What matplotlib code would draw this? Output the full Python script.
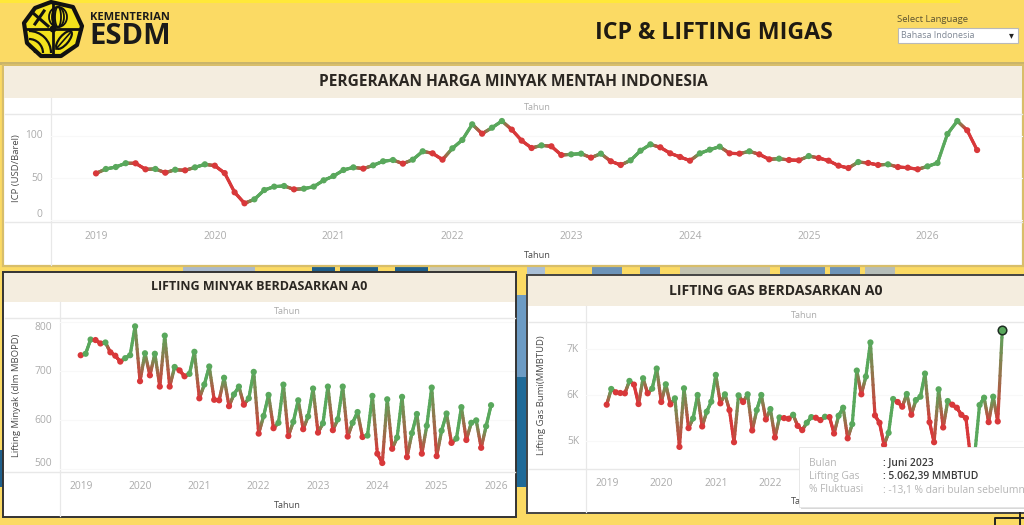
import numpy as np
import matplotlib
matplotlib.use("Agg")
import matplotlib.pyplot as plt
from matplotlib.collections import LineCollection
from matplotlib.colors import to_rgb
from matplotlib.patches import Rectangle, Polygon, Circle, Arc, Ellipse

plt.rcParams['font.family'] = ['Open Sans', 'DejaVu Sans']

W, H = 1024, 525

icp_values = [
    55.7, 60.9, 63.2, 67.7, 67.6, 60.5, 60.9, 56.5, 60.0, 59.3, 62.8, 66.4,
    64.8, 56.0, 33.3, 20.3, 25.0, 36.0, 40.0, 40.8, 36.8, 37.6, 40.0, 47.5,
    52.6, 59.7, 62.8, 61.3, 65.2, 70.0, 71.5, 67.2, 71.9, 81.8, 79.4, 71.9,
    85.3, 95.2, 113.7, 102.6, 109.7, 117.6, 107.4, 94.4, 85.7, 88.8, 87.7, 77.4,
    78.2, 79.0, 74.3, 79.0, 70.0, 65.6, 71.1, 82.5, 90.0, 86.5, 79.4, 75.1,
    70.7, 79.4, 83.7, 87.3, 79.4, 79.0, 81.8, 78.2, 72.3, 73.1, 71.5, 71.1,
    76.2, 73.9, 70.7, 64.8, 62.0, 69.1, 68.0, 65.6, 66.4, 63.2, 62.4, 60.5,
    64.0, 68.0, 102.2, 117.6, 106.6, 83.3,
]
oil_values = [
    733, 736, 765, 764, 757, 759, 739, 732, 720, 727, 733, 792,
    680, 737, 692, 736, 669, 773, 669, 709, 702, 690, 695, 740,
    645, 673, 710, 642, 641, 687, 629, 653, 669, 632, 645, 699,
    573, 609, 652, 584, 595, 673, 568, 597, 641, 582, 608, 665,
    575, 594, 669, 580, 602, 669, 567, 595, 617, 566, 569, 650,
    532, 513, 643, 542, 565, 648, 525, 574, 613, 532, 589, 667,
    527, 579, 614, 554, 563, 627, 560, 595, 600, 544, 588, 631,
]
gas_values = [
    5793, 6134, 6062, 6047, 6040, 6309, 6229, 5807, 6367, 6040, 6142, 6578,
    5851, 6236, 5800, 5931, 4876, 6149, 5284, 5495, 6004, 5320, 5640, 5858,
    6440, 5822, 6018, 5676, 4978, 5996, 5851, 6018, 5233, 5676, 6004, 5473,
    5698, 5080, 5516, 5502, 5487, 5574, 5334, 5240, 5400, 5523, 5509, 5458,
    5531, 5524, 5167, 5553, 5727, 5062, 5371, 6534, 6018, 6403, 7145, 5560,
    5400, 4920, 5182, 5916, 5851, 5749, 6025, 5574, 5894, 5967, 6469, 5414,
    4978, 6127, 5298, 5872, 5793, 5727, 5574, 5502, 4658, 4767, 5785, 5945,
    5414, 5967, 5429, 7414,
]
year_labels = ['2019', '2020', '2021', '2022', '2023', '2024', '2025', '2026']

RED = '#D8383A'
GREEN = '#59A85C'
BG = '#FBDA64'
BAND = '#F4EDDF'
GRID = '#E8E8E8'
FAINT = '#F8F8F8'
TICK = '#ABABAB'
TEXT = '#4A4A4A'

fig = plt.figure(figsize=(W / 100, H / 100), dpi=100, facecolor=BG)
bg = fig.add_axes([0, 0, 1, 1], zorder=0)
bg.set_xlim(0, W)
bg.set_ylim(H, 0)
bg.axis('off')


def rect(x0, y0, x1, y1, fc, ec='none', lw=0, z=1, ax=bg):
    ax.add_patch(Rectangle((x0, y0), x1 - x0, y1 - y0, fc=fc, ec=ec, lw=lw, zorder=z))


# backdrop: bright top strip, separator, and the map showing between panels
rect(0, 0, 960, 3, '#FFE83A')
rect(0, 62, W, 65, '#C9B46A')
for x0, x1, c in [(183, 255, '#A9B9CC'), (312, 335, '#1F5F8B'), (340, 378, '#1F5F8B'),
                  (395, 428, '#1F5F8B'), (430, 490, '#C9C9B8'), (527, 545, '#A9BFD6'),
                  (592, 622, '#6C93B8'), (640, 660, '#6C93B8'), (680, 770, '#C2C2B0'),
                  (780, 825, '#6C93B8'), (830, 860, '#6C93B8'), (865, 895, '#B5BDB8')]:
    rect(x0, 266, x1, 272 if x1 < 520 else 275, c)
rect(516, 272, 527, 295, BG)
rect(516, 295, 527, 377, '#6C9BC4')
rect(516, 377, 527, 487, '#1F6A98')
rect(0, 450, 3, 487, '#1F5F8B')

# header: logo
cx, cy = 53, 29
INK = '#111111'
pent = [(cx - 2, cy - 27), (cx + 20, cy - 22), (cx + 29, cy - 3), (cx + 24, cy + 16),
        (cx + 8, cy + 27), (cx - 12, cy + 27), (cx - 26, cy + 14), (cx - 29, cy - 6), (cx - 18, cy - 21)]
bg.add_patch(Polygon(pent, closed=True, fc='#F3E21C', ec=INK, lw=3.0, zorder=2, joinstyle='round'))
bg.plot([cx, cx], [cy - 26, cy + 26], color=INK, lw=2.0, zorder=3)
bg.plot([cx - 28, cx + 28], [cy, cy], color=INK, lw=2.0, zorder=3)
bg.add_patch(Circle((cx, cy), 3.5, fc=INK, zorder=4))
# pick (upper left)
bg.plot([cx - 20, cx - 5], [cy - 16, cy - 3], color=INK, lw=2.2, zorder=3)
bg.plot([cx - 18, cx - 9], [cy - 5, cy - 18], color=INK, lw=2.2, zorder=3)
# flame (upper right)
for r in (6, 12, 18):
    bg.add_patch(Arc((cx + 5, cy - 12), r, 20, theta1=90, theta2=450, color=INK, lw=1.3, zorder=3))
# nested curves (lower left)
for r in (8, 16, 24):
    bg.add_patch(Arc((cx - 24, cy + 24), r * 2 - 4, r * 2 - 4, theta1=270, theta2=360, color=INK, lw=1.6, zorder=3))
# leaf (lower right)
bg.add_patch(Ellipse((cx + 11, cy + 11), 9, 22, angle=40, fc='none', ec=INK, lw=1.6, zorder=3))
bg.plot([cx + 3, cx + 18], [cy + 20, cy + 3], color=INK, lw=1.2, zorder=3)

bg.text(90, 17.5, 'KEMENTERIAN', fontsize=8.0, fontweight='bold', color='#1A1A1A', va='center', ha='left', zorder=5)
bg.text(89, 36, 'ESDM', fontsize=21, fontweight='bold', color='#1A1A1A', va='center', ha='left', zorder=5)
bg.text(714, 33, 'ICP & LIFTING MIGAS', fontsize=16.7, fontweight='bold', color='#1E1A12', va='center', ha='center', zorder=5)
bg.text(897, 20, 'Select Language', fontsize=6.8, color='#5C5330', va='center', ha='left', zorder=5)
rect(898, 28, 1018, 43, '#FFFFFF', ec='#B9B9B9', lw=0.8, z=4)
bg.text(901, 35.5, 'Bahasa Indonesia', fontsize=6.4, color='#7E8794', va='center', ha='left', zorder=5)
bg.text(1011, 35.5, '▾', fontsize=7, color='#222222', va='center', ha='center', zorder=5, family=['DejaVu Sans'])

# panels
panels = [
    (3, 65, 1023, 266, 98, '#D8BE6A', 1.6, 'PERGERAKAN HARGA MINYAK MENTAH INDONESIA', 513, 82, 11.2),
    (3, 272, 516, 517, 302, '#333333', 1.4, 'LIFTING MINYAK BERDASARKAN A0', 259, 287, 9.0),
    (527, 275, 1026, 513, 306, '#444444', 1.4, 'LIFTING GAS BERDASARKAN A0', 776, 291, 10.1),
]
for x0, y0, x1, y1, band, ec, lw, title, tx, ty, fs in panels:
    rect(x0, y0, x1, y1, '#FFFFFF', ec=ec, lw=lw, z=2)
    rect(x0 + 1, y0 + 1, x1 - 1, band, BAND, z=2.5)
    bg.text(tx, ty, title, fontsize=fs, fontweight='bold', color='#2B2722', va='center', ha='center', zorder=5)


def chart(values, box, panel, x0px, xstep, ylim, ticks, ticklabels, ylabel, ylabel_x, year_n, vas, pad):
    left, top, right, bottom = box
    px0, band, px1, py1 = panel
    ax = fig.add_axes([left / W, 1 - bottom / H, (right - left) / W, (bottom - top) / H], zorder=2)
    ax.patch.set_alpha(0)
    ax.set_xlim((left - x0px) / xstep, (right - x0px) / xstep)
    ax.set_ylim(*ylim)
    vals = np.asarray(values, dtype=float)
    idx = np.arange(len(vals))
    up = np.r_[False, np.diff(vals) >= 0]
    cols = np.array([to_rgb(GREEN) if u else to_rgb(RED) for u in up])
    segs, scol = [], []
    for i in range(len(vals) - 1):
        ts = np.linspace(0, 1, 13)
        xs = idx[i] + ts
        ys = vals[i] + (vals[i + 1] - vals[i]) * ts
        for k in range(12):
            segs.append([(xs[k], ys[k]), (xs[k + 1], ys[k + 1])])
            m = (ts[k] + ts[k + 1]) / 2
            scol.append(cols[i] * (1 - m) + cols[i + 1] * m)
    ax.add_collection(LineCollection(segs, colors=scol, linewidths=2.3, capstyle='round', zorder=3))
    ax.scatter(idx, vals, c=cols, s=20, linewidths=0, zorder=4)

    for s in ax.spines.values():
        s.set_visible(False)
    ax.set_yticks(ticks)
    ax.set_yticklabels(ticklabels)
    ax.grid(axis='y', color=FAINT, lw=0.8, zorder=0)
    ax.set_axisbelow(True)
    ax.set_xticks(np.arange(year_n) * 12)
    ax.set_xticklabels(year_labels[:year_n])
    ax.tick_params(axis='both', length=0, labelcolor=TICK)
    ax.tick_params(axis='x', labelsize=7.4, pad=6.5)
    ax.tick_params(axis='y', labelsize=7.4, pad=pad)
    for lab, va in zip(ax.get_yticklabels(), vas):
        lab.set_va(va)
    # frame lines run the whole panel width, the axis line the whole panel height
    bg.plot([px0, px1], [top, top], color=GRID, lw=1.0, zorder=3)
    bg.plot([px0, px1], [bottom, bottom], color=GRID, lw=1.0, zorder=3)
    bg.plot([left, left], [band, py1], color=GRID, lw=0.9, zorder=3)
    bg.text(ylabel_x, (top + bottom) / 2, ylabel, rotation=90, fontsize=6.8,
            color=TEXT, va='center', ha='center', zorder=5)
    return ax


ax1 = chart(icp_values, (51, 114, 1023, 222), (5, 98, 1022, 265), 96, 9.9, (-1.8, 125.9), [0, 50, 100],
            ['0', '50', '100'], 'ICP (USD/Barel)', 17, 8, ['bottom', 'center', 'center'], 6)
ax2 = chart(oil_values, (60, 318, 515, 472), (5, 302, 515, 516), 80.7, 4.944, (494.6, 809), [500, 600, 700, 800],
            ['500', '600', '700', '800'], 'Lifting Minyak (dlm MBOPD)', 17, 8,
            ['bottom', 'center', 'center', 'top'], 6)
ax3 = chart(gas_values, (586, 322, 1023, 469), (529, 306, 1024, 512), 606.7, 4.547, (4396, 7589), [5000, 6000, 7000],
            ['5K', '6K', '7K'], 'Lifting Gas Bumi(MMBTUD)', 541, 4, ['center', 'center', 'center'], 5)

# highlighted last gas point
ax3.scatter([len(gas_values) - 1], [gas_values[-1]], s=38, c=GREEN, edgecolors='#1E2E22', linewidths=1.1, zorder=6)

# axis-name labels
for x, y, c in [(537, 108, TICK), (537, 255, TEXT), (287, 311, TICK), (287, 505, TEXT), (804, 315, TICK)]:
    bg.text(x, y, 'Tahun', fontsize=6.6, color=c, va='center', ha='center', zorder=5)

# tooltip, on top of everything in the gas panel
tip = fig.add_axes([0, 0, 1, 1], zorder=5)
tip.set_xlim(0, W)
tip.set_ylim(H, 0)
tip.axis('off')
clip = Rectangle((780, 495), 19, 15, transform=tip.transData)
cut = bg.text(804, 502, 'Tahun', fontsize=6.6, color=TEXT, va='center', ha='center', zorder=5)
cut.set_clip_path(clip)
rect(801, 449, W + 2, 509, '#D8D8D8', z=1, ax=tip)
rect(799, 447, W + 2, 507, '#FFFFFF', ec='#E4E4E4', lw=0.6, z=2, ax=tip)
tip_rows = [('Bulan', ': Juni 2023', '#3A3A3A', 463, 'semibold'),
            ('Lifting Gas', ': 5.062,39 MMBTUD', '#3A3A3A', 477, 'semibold'),
            ('% Fluktuasi', ': -13,1 % dari bulan sebelumnya', '#B5B5B5', 490, 'normal')]
for name, val, col, y, wt in tip_rows:
    tip.text(809, y, name, fontsize=7.4, color='#B5B5B5', va='center', ha='left', zorder=3)
    t = tip.text(883, y, val, fontsize=7.4, color=col, fontweight=wt, va='center', ha='left', zorder=3)
    t.set_clip_on(True)

# corner fragment bottom right
tip.plot([995, 995, 1024], [525, 518, 518], color='#222222', lw=1.4, zorder=3)
tip.plot([1020, 1020], [513, 525], color='#222222', lw=1.4, zorder=3)

fig.savefig('out.png', dpi=100, facecolor=BG)
